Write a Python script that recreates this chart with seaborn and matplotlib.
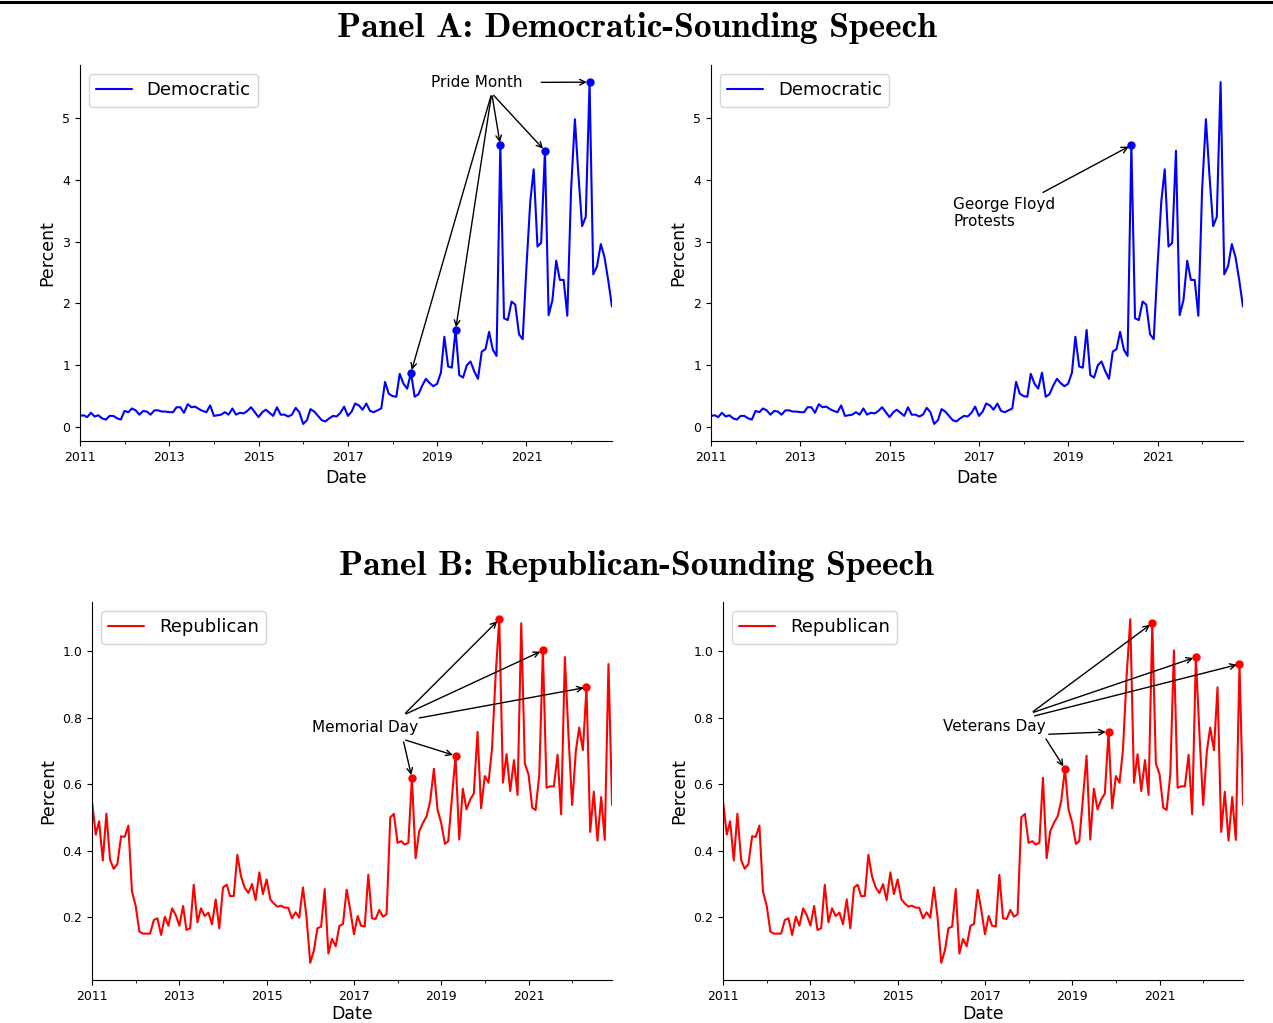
import numpy as np
import pandas as pd
import matplotlib
matplotlib.use("Agg")
import matplotlib.pyplot as plt
import matplotlib.dates as mdates
from matplotlib.lines import Line2D
import seaborn as sns

sns.set_style("ticks")
plt.rcParams["text.color"] = "black"
plt.rcParams["axes.labelcolor"] = "black"

# Monthly observations, Jan 2011 - Dec 2022
months = pd.date_range("2011-01-01", "2022-12-01", freq="MS")

# Share of speech classified as Democratic-sounding (percent)
dem_pct = [
    0.18, 0.19, 0.16, 0.23, 0.17, 0.19, 0.14, 0.12, 0.18, 0.18, 0.14, 0.12,
    0.26, 0.24, 0.30, 0.27, 0.20, 0.26, 0.25, 0.20, 0.27, 0.27, 0.25, 0.25,
    0.24, 0.24, 0.32, 0.32, 0.23, 0.37, 0.32, 0.33, 0.29, 0.26, 0.24, 0.35,
    0.18, 0.19, 0.20, 0.24, 0.20, 0.30, 0.20, 0.23, 0.22, 0.26, 0.32, 0.24,
    0.16, 0.24, 0.28, 0.23, 0.18, 0.32, 0.20, 0.20, 0.17, 0.20, 0.31, 0.24,
    0.05, 0.11, 0.29, 0.25, 0.18, 0.11, 0.09, 0.14, 0.18, 0.17, 0.23, 0.33,
    0.18, 0.25, 0.38, 0.35, 0.28, 0.38, 0.26, 0.24, 0.27, 0.30, 0.73, 0.54,
    0.50, 0.49, 0.86, 0.70, 0.62, 0.88, 0.49, 0.53, 0.67, 0.78, 0.71, 0.66,
    0.70, 0.88, 1.46, 0.98, 0.96, 1.57, 0.84, 0.80, 1.00, 1.06, 0.90, 0.78,
    1.22, 1.26, 1.54, 1.25, 1.15, 4.56, 1.76, 1.73, 2.03, 1.98, 1.50, 1.42,
    2.60, 3.65, 4.17, 2.92, 2.98, 4.47, 1.81, 2.05, 2.69, 2.38, 2.38, 1.80,
    3.85, 4.98, 4.10, 3.25, 3.40, 5.58, 2.47, 2.60, 2.96, 2.75, 2.37, 1.95,
]

# Share of speech classified as Republican-sounding (percent)
rep_pct = [
    0.548, 0.449, 0.489, 0.371, 0.512, 0.373, 0.346, 0.360, 0.444, 0.442, 0.476, 0.278,
    0.235, 0.157, 0.151, 0.151, 0.151, 0.192, 0.197, 0.147, 0.202, 0.175, 0.227, 0.207,
    0.175, 0.234, 0.162, 0.167, 0.298, 0.185, 0.227, 0.204, 0.214, 0.179, 0.254, 0.167,
    0.290, 0.298, 0.264, 0.264, 0.388, 0.323, 0.290, 0.273, 0.300, 0.252, 0.335, 0.270,
    0.314, 0.254, 0.242, 0.232, 0.235, 0.229, 0.229, 0.197, 0.215, 0.199, 0.290, 0.200,
    0.063, 0.101, 0.167, 0.172, 0.285, 0.091, 0.135, 0.113, 0.174, 0.180, 0.283, 0.222,
    0.149, 0.204, 0.175, 0.172, 0.328, 0.197, 0.195, 0.222, 0.202, 0.209, 0.501, 0.511,
    0.424, 0.429, 0.419, 0.424, 0.620, 0.378, 0.459, 0.484, 0.504, 0.550, 0.647, 0.525,
    0.484, 0.421, 0.429, 0.560, 0.686, 0.434, 0.587, 0.525, 0.555, 0.572, 0.758, 0.528,
    0.625, 0.605, 0.706, 0.930, 1.097, 0.605, 0.691, 0.580, 0.673, 0.568, 1.085, 0.663,
    0.630, 0.530, 0.523, 0.630, 1.003, 0.590, 0.594, 0.594, 0.689, 0.510, 0.983, 0.750,
    0.538, 0.701, 0.771, 0.703, 0.892, 0.457, 0.578, 0.431, 0.562, 0.433, 0.962, 0.538,
]

# Highlighted months
pride_months = ["2018-06", "2019-06", "2020-06", "2021-06", "2022-06"]
floyd_months = ["2020-06"]
memorial_months = ["2018-05", "2019-05", "2020-05", "2021-05", "2022-05"]
veterans_months = ["2018-11", "2019-11", "2020-11", "2021-11", "2022-11"]

tick_years = [2011, 2013, 2015, 2017, 2019, 2021]

dem = pd.DataFrame({"Date": months, "Percent": dem_pct})
rep = pd.DataFrame({"Date": months, "Percent": rep_pct})

fig = plt.figure(figsize=(12.73, 10.23), dpi=100)
ax_a1 = fig.add_axes([0.0628, 0.5689, 0.4179, 0.3675])
ax_a2 = fig.add_axes([0.5585, 0.5689, 0.4179, 0.3675])
ax_b1 = fig.add_axes([0.0723, 0.0420, 0.4085, 0.3695])
ax_b2 = fig.add_axes([0.5680, 0.0420, 0.4085, 0.3695])


def draw_series(ax, df, color, label, xlabelpad=4.0):
    sns.lineplot(data=df, x="Date", y="Percent", color=color, linewidth=1.5,
                 label=label, ax=ax)
    ax.set_xlim(df["Date"].iloc[0], df["Date"].iloc[-1])
    ax.set_xticks(pd.to_datetime([f"{y}-01-01" for y in tick_years]))
    ax.xaxis.set_major_formatter(mdates.DateFormatter("%Y"))
    ax.xaxis.set_minor_locator(mdates.YearLocator(1))
    ax.tick_params(axis="both", which="major", labelsize=9, length=3.5,
                   colors="black")
    ax.tick_params(axis="x", which="minor", length=2.5, color="black")
    ax.set_xlabel("Date", fontsize=12.5, labelpad=xlabelpad)
    ax.set_ylabel("Percent", fontsize=12.5)
    ax.legend(loc="upper left", fontsize=13)
    sns.despine(ax=ax)
    for s in ("left", "bottom"):
        ax.spines[s].set_color("black")


def mark(ax, df, dates, color):
    sel = df[df["Date"].isin(pd.to_datetime([d + "-01" for d in dates]))]
    ax.plot(sel["Date"], sel["Percent"], "o", color=color, markersize=5)
    return sel


def arrow(ax, row, start):
    ax.annotate("", xy=(row["Date"], row["Percent"]), xycoords="data",
                xytext=start, textcoords="axes fraction",
                arrowprops=dict(arrowstyle="->", color="black", lw=1))


draw_series(ax_a1, dem, "blue", "Democratic")
draw_series(ax_a2, dem, "blue", "Democratic")
draw_series(ax_b1, rep, "red", "Republican", xlabelpad=1.5)
draw_series(ax_b2, rep, "red", "Republican", xlabelpad=1.5)

# Pride Month
sel = mark(ax_a1, dem, pride_months, "blue")
ax_a1.text(0.746, 0.954, "Pride Month", transform=ax_a1.transAxes,
           ha="center", va="center", fontsize=11)
for i, (_, row) in enumerate(sel.iterrows()):
    start = (0.862, 0.954) if i == len(sel) - 1 else (0.774, 0.925)
    arrow(ax_a1, row, start)

# George Floyd protests
sel = mark(ax_a2, dem, floyd_months, "blue")
row = sel.iloc[0]
ax_a2.annotate("George Floyd\nProtests", xy=(row["Date"], row["Percent"]),
               xytext=(0.455, 0.606), textcoords="axes fraction",
               ha="left", va="center", fontsize=11,
               arrowprops=dict(arrowstyle="->", color="black", lw=1))

# Memorial Day
sel = mark(ax_b1, rep, memorial_months, "red")
ax_b1.text(0.525, 0.667, "Memorial Day", transform=ax_b1.transAxes,
           ha="center", va="center", fontsize=11)
mem_starts = [(0.598, 0.637), (0.598, 0.637), (0.599, 0.701),
              (0.599, 0.701), (0.624, 0.692)]
for (_, row), st in zip(sel.iterrows(), mem_starts):
    arrow(ax_b1, row, st)

# Veterans Day
sel = mark(ax_b2, rep, veterans_months, "red")
ax_b2.text(0.522, 0.670, "Veterans Day", transform=ax_b2.transAxes,
           ha="center", va="center", fontsize=11)
vet_starts = [(0.618, 0.644), (0.621, 0.650), (0.592, 0.706),
              (0.592, 0.706), (0.594, 0.697)]
for (_, row), st in zip(sel.iterrows(), vet_starts):
    arrow(ax_b2, row, st)

# Panel headings and top rule
fig.text(0.5, 0.9726, "Panel A: Democratic-Sounding Speech", ha="center",
         va="center", fontsize=25.5, family="cmb10", color="black")
fig.text(0.5, 0.4467, "Panel B: Republican-Sounding Speech", ha="center",
         va="center", fontsize=25.5, family="cmb10", color="black")
fig.add_artist(Line2D([0.0, 1.0], [0.9985, 0.9985], transform=fig.transFigure,
                      color="black", lw=2.2))

fig.savefig("out.png", dpi=100)
